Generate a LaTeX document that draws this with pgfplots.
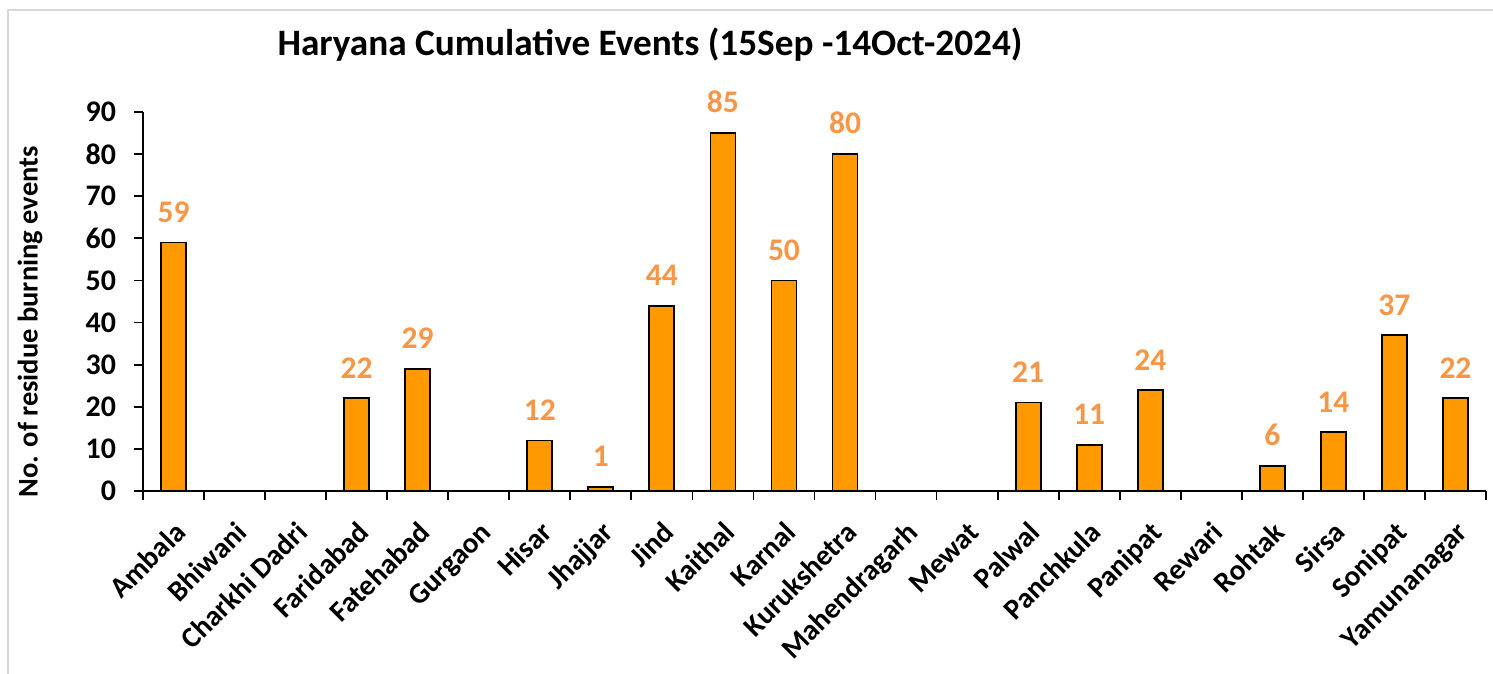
\documentclass[border=0pt]{standalone}
\usepackage{fontspec}
\setmainfont{Carlito}
\usepackage{pgfplots}
\pgfplotsset{compat=1.18}
\usepackage{pgfplotstable}
\definecolor{barfill}{HTML}{FF9900}
\definecolor{lblcol}{HTML}{F79646}
\newlength\px
\setlength\px{0.5bp}
\pgfplotstableread{
idx val
0 59
1 0
2 0
3 22
4 29
5 0
6 12
7 1
8 44
9 85
10 50
11 80
12 0
13 0
14 21
15 11
16 24
17 0
18 6
19 14
20 37
21 22
}\datatable
\begin{document}
\begin{tikzpicture}
\path[use as bounding box] (-143\px,-183\px) rectangle (1350\px,491\px);
\draw[black!15, line width=2\px] (-135\px,-183\px) -- (-135\px,481\px) -- (1350\px,481\px);
\begin{axis}[
  at={(0,0)}, anchor=south west,
  scale only axis,
  width=1343\px, height=379\px,
  xmin=-0.5, xmax=21.5, ymin=0, ymax=90,
  axis x line*=bottom, axis y line*=left,
  axis line style={line width=1.8\px, black},
  ytick={0,10,...,90},
  xtick={0,...,21},
  xticklabels={Ambala,Bhiwani,Charkhi Dadri,Faridabad,Fatehabad,Gurgaon,Hisar,Jhajjar,Jind,Kaithal,Karnal,Kurukshetra,Mahendragarh,Mewat,Palwal,Panchkula,Panipat,Rewari,Rohtak,Sirsa,Sonipat,Yamunanagar},
  minor xtick={-0.5,0.5,...,21.5},
  major x tick style={draw=none},
  tick align=outside,
  major tick length=9\px,
  minor tick length=9\px,
  tick style={line width=1.8\px, black},
  /pgf/number format/assume math mode=true,
  yticklabel style={font=\bfseries\fontsize{15}{16}\selectfont, xshift=-5.5bp},
  xticklabel style={font=\bfseries\fontsize{14.6}{15}\selectfont, xshift=14\px, yshift=-34\px, rotate=45, anchor=base east, inner sep=0pt},
  clip=false,
]
\addplot[ybar, bar width=25\px, bar shift=0pt, fill=barfill, draw=black, line width=1.8\px,
  y filter/.expression={y==0 ? nan : y}, unbounded coords=discard,
  nodes near coords,
  every node near coord/.append style={font=\bfseries\fontsize{15.8}{16}\selectfont, text=lblcol, inner sep=0pt, anchor=south, yshift=19\px}
] table[x=idx, y=val] {\datatable};
\end{axis}
\node[font=\bfseries\fontsize{18.7}{19}\selectfont] at (507\px,446\px) {Haryana Cumulative Events (15Sep -14Oct-2024)};
\node[font=\bfseries\fontsize{14.3}{15}\selectfont, rotate=90] at (-113\px,169\px) {No. of residue burning events};
\end{tikzpicture}
\end{document}
